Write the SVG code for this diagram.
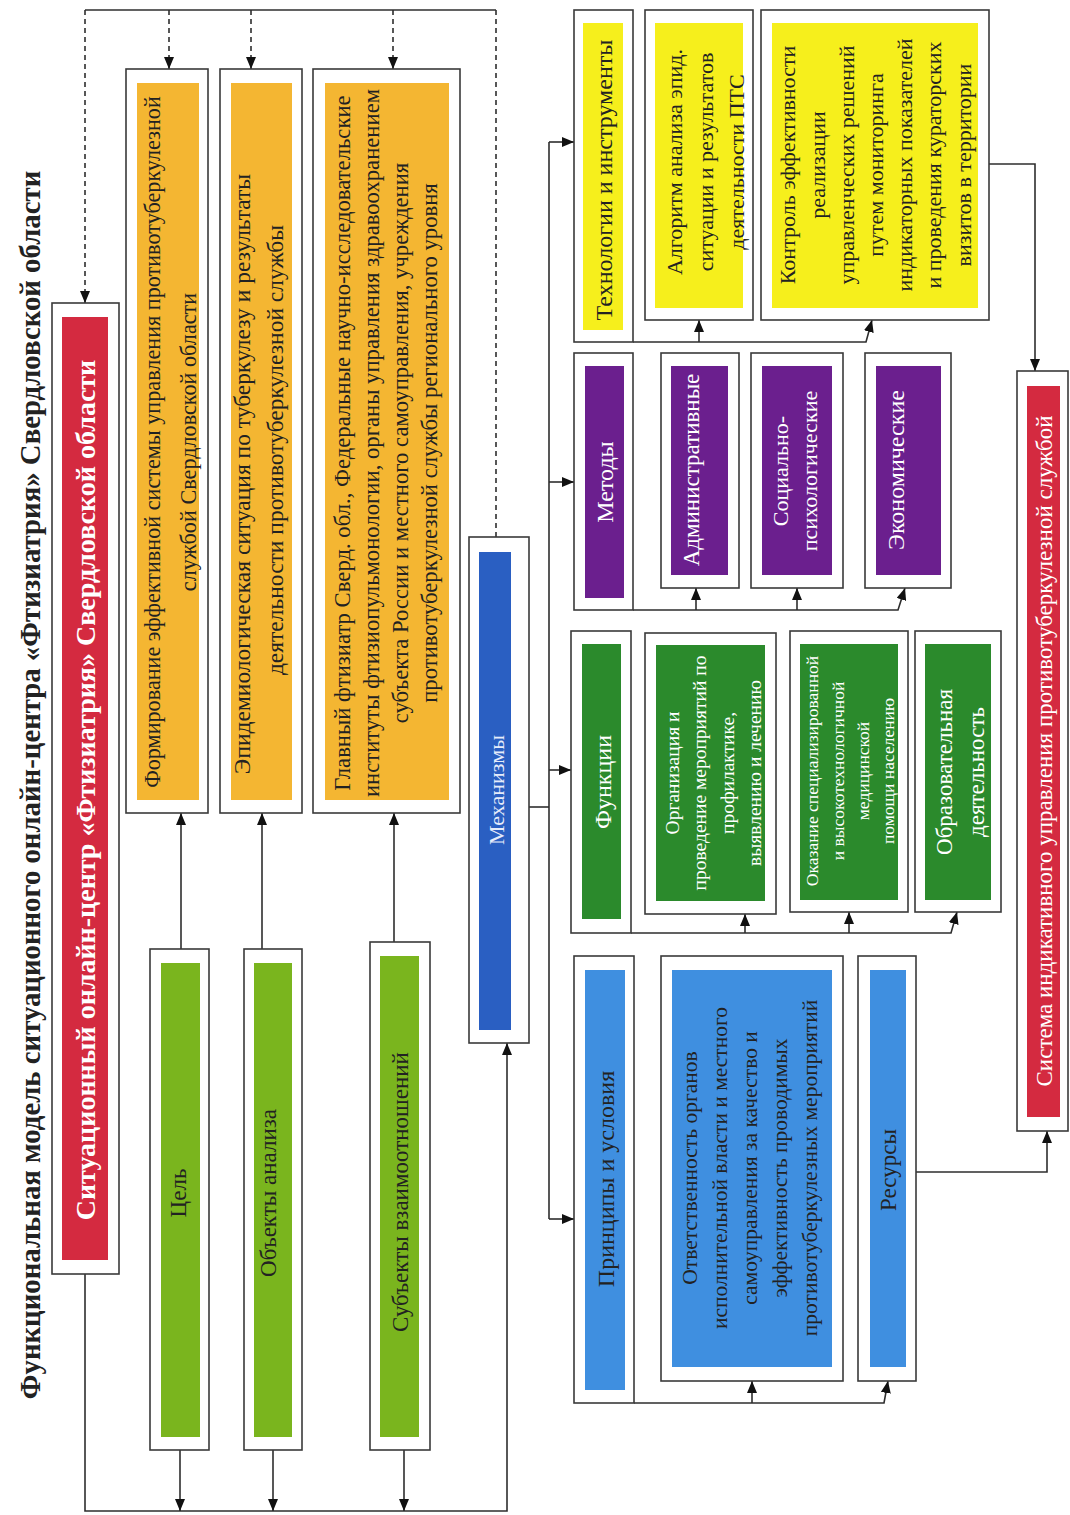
<svg xmlns="http://www.w3.org/2000/svg" width="1070" height="1515" viewBox="0 0 1070 1515">
<defs>
<style>
.frame{fill:#ffffff;stroke:#3a3a3a;stroke-width:1.6}
.t{font-family:"Liberation Serif","Times New Roman",serif;dominant-baseline:central;text-anchor:middle}
.dk{fill:#222222}
.wh{fill:#ffffff}
.conn{fill:none;stroke:#2e2e2e;stroke-width:1.6}
.dash{stroke-dasharray:5 4}
.red{fill:#d42a40}
.org{fill:#f4b632}
.lgr{fill:#7ab51e}
.blu{fill:#2a5fc2}
.yel{fill:#f6ef1c}
.pur{fill:#6b1f8e}
.dgr{fill:#2b8a2c}
.lbl{fill:#3f8fe0}
</style>
<marker id="arr" viewBox="0 0 12 10" refX="12" refY="5" markerWidth="12" markerHeight="10" markerUnits="userSpaceOnUse" orient="auto">
<path d="M0,0 L12,5 L0,10 z" fill="#111"/>
</marker>
</defs>
<rect x="0" y="0" width="1070" height="1515" fill="#ffffff"/>

<g id="title">
<text class="t dk" font-size="28.8" font-weight="bold" transform="translate(30,785) rotate(-90)">Функциональная модель ситуационного онлайн-центра «Фтизиатрия» Свердловской области</text>
</g>

<g id="connectors">
<path class="conn" d="M85,10 H496"/>
<path class="conn dash" d="M85,10 V303" marker-end="url(#arr)"/>
<path class="conn dash" d="M169,10 V69" marker-end="url(#arr)"/>
<path class="conn dash" d="M251,10 V69" marker-end="url(#arr)"/>
<path class="conn dash" d="M393,10 V69" marker-end="url(#arr)"/>
<path class="conn dash" d="M496,10 V537"/>
<path class="conn" d="M181,949 V813" marker-end="url(#arr)"/>
<path class="conn" d="M262,949 V813" marker-end="url(#arr)"/>
<path class="conn" d="M394,942 V813" marker-end="url(#arr)"/>
<path class="conn" d="M85,1274 V1511 H507 V1043" marker-end="url(#arr)"/>
<path class="conn" d="M180,1450 V1511" marker-end="url(#arr)"/>
<path class="conn" d="M273,1450 V1511" marker-end="url(#arr)"/>
<path class="conn" d="M404,1450 V1511" marker-end="url(#arr)"/>
<path class="conn" d="M529,807 H549"/>
<path class="conn" d="M549,142 V1219"/>
<path class="conn" d="M549,142 H574" marker-end="url(#arr)"/>
<path class="conn" d="M549,482 H574" marker-end="url(#arr)"/>
<path class="conn" d="M549,770 H571" marker-end="url(#arr)"/>
<path class="conn" d="M549,1219 H574" marker-end="url(#arr)"/>
<path class="conn" d="M633,342 H866 L872,320" marker-end="url(#arr)"/>
<path class="conn" d="M699,342 V320" marker-end="url(#arr)"/>
<path class="conn" d="M633,610 H898 L905,588" marker-end="url(#arr)"/>
<path class="conn" d="M696,610 V588" marker-end="url(#arr)"/>
<path class="conn" d="M797,610 V588" marker-end="url(#arr)"/>
<path class="conn" d="M631,933 H951 L957,912" marker-end="url(#arr)"/>
<path class="conn" d="M745,933 V914" marker-end="url(#arr)"/>
<path class="conn" d="M849,933 V912" marker-end="url(#arr)"/>
<path class="conn" d="M634,1403 H884 L888,1381" marker-end="url(#arr)"/>
<path class="conn" d="M752,1403 V1381" marker-end="url(#arr)"/>
<path class="conn" d="M989,164 H1035 V371" marker-end="url(#arr)"/>
<path class="conn" d="M916,1172 H1047 V1131" marker-end="url(#arr)"/>
</g>

<g id="center">
<rect class="frame" x="52" y="303" width="67" height="971"/>
<rect class="red" x="62" y="317" width="46" height="943"/>
<text class="t wh" font-size="28" font-weight="bold" transform="translate(85,790) rotate(-90)">Ситуационный онлайн-центр «Фтизиатрия» Свердловской области</text>
</g>

<g id="goal-content">
<rect class="frame" x="126" y="69" width="82" height="744"/>
<rect class="org" x="137" y="83" width="62" height="717"/>
<text class="t dk" font-size="22.2" transform="translate(170,442) rotate(-90)"><tspan x="0" y="-18">Формирование эффективной системы управления противотуберкулезной</tspan><tspan x="0" y="18">службой Свердловской области</tspan></text>
</g>

<g id="objects-content">
<rect class="frame" x="220" y="69" width="82" height="744"/>
<rect class="org" x="231" y="83" width="61" height="717"/>
<text class="t dk" font-size="23.5" transform="translate(258.5,444) rotate(-90)"><tspan x="-30" y="-16.5">Эпидемиологическая ситуация по туберкулезу и результаты</tspan><tspan x="-6" y="16.5">деятельности противотуберкулезной службы</tspan></text>
</g>

<g id="subjects-content">
<rect class="frame" x="313" y="69" width="147" height="744"/>
<rect class="org" x="325" y="83" width="124" height="717"/>
<text class="t dk" font-size="22.7" transform="translate(385.5,443) rotate(-90)"><tspan x="0" y="-43.5">Главный фтизиатр Сверд. обл., Федеральные научно-исследовательские</tspan><tspan x="0" y="-14.5">институты фтизиопульмонологии, органы управления здравоохранением</tspan><tspan x="0" y="14.5">субъекта России и местного самоуправления, учреждения</tspan><tspan x="0" y="43.5">противотуберкулезной службы регионального уровня</tspan></text>
</g>

<g id="goal">
<rect class="frame" x="150" y="949" width="59" height="501"/>
<rect class="lgr" x="161" y="963" width="39" height="474"/>
<text class="t dk" font-size="23" transform="translate(178,1193) rotate(-90)">Цель</text>
</g>

<g id="objects">
<rect class="frame" x="244" y="949" width="58" height="501"/>
<rect class="lgr" x="254" y="963" width="38" height="474"/>
<text class="t dk" font-size="23" transform="translate(268,1193) rotate(-90)">Объекты анализа</text>
</g>

<g id="subjects">
<rect class="frame" x="370" y="942" width="60" height="508"/>
<rect class="lgr" x="380" y="956" width="39" height="481"/>
<text class="t dk" font-size="23" transform="translate(400,1192) rotate(-90)">Субъекты взаимоотношений</text>
</g>

<g id="mechanisms">
<rect class="frame" x="469" y="537" width="60" height="506"/>
<rect class="blu" x="479" y="552" width="32" height="478"/>
<text class="t" fill="#e6ecfa" font-size="22" transform="translate(496,790) rotate(-90)">Механизмы</text>
</g>

<g id="technologies">
<rect class="frame" x="574" y="10" width="59" height="332"/>
<rect class="yel" x="583" y="23" width="40" height="307"/>
<text class="t dk" font-size="24" transform="translate(604,180) rotate(-90)">Технологии и инструменты</text>
</g>

<g id="algorithm">
<rect class="frame" x="645" y="10" width="108" height="310"/>
<rect class="yel" x="655" y="23" width="88" height="285"/>
<text class="t dk" font-size="22" transform="translate(705,162) rotate(-90)"><tspan x="0" y="-31">Алгоритм анализа эпид.</tspan><tspan x="0" y="0">ситуации и результатов</tspan><tspan x="0" y="31">деятельности ПТС</tspan></text>
</g>

<g id="control">
<rect class="frame" x="761" y="10" width="228" height="310"/>
<rect class="yel" x="772" y="23" width="206" height="285"/>
<text class="t dk" font-size="22" transform="translate(875,165) rotate(-90)"><tspan x="0" y="-87.6">Контроль эффективности</tspan><tspan x="0" y="-58.4">реализации</tspan><tspan x="0" y="-29.2">управленческих решений</tspan><tspan x="0" y="0">путем мониторинга</tspan><tspan x="0" y="29.2">индикаторных показателей</tspan><tspan x="0" y="58.4">и проведения кураторских</tspan><tspan x="0" y="87.6">визитов в территории</tspan></text>
</g>

<g id="methods">
<rect class="frame" x="574" y="353" width="59" height="257"/>
<rect class="pur" x="585" y="366" width="39" height="232"/>
<text class="t wh" font-size="24" transform="translate(605,482) rotate(-90)">Методы</text>
</g>

<g id="administrative">
<rect class="frame" x="661" y="353" width="78" height="235"/>
<rect class="pur" x="671" y="366" width="57" height="209"/>
<text class="t wh" font-size="23" transform="translate(691,470) rotate(-90)">Административные</text>
</g>

<g id="sociopsych">
<rect class="frame" x="751" y="353" width="92" height="235"/>
<rect class="pur" x="762" y="366" width="70" height="209"/>
<text class="t wh" font-size="22" transform="translate(794,471) rotate(-90)"><tspan x="0" y="-14.5">Социально-</tspan><tspan x="0" y="14.5">психологические</tspan></text>
</g>

<g id="economic">
<rect class="frame" x="865" y="353" width="86" height="235"/>
<rect class="pur" x="876" y="366" width="65" height="209"/>
<text class="t wh" font-size="24" transform="translate(896,470) rotate(-90)">Экономические</text>
</g>

<g id="functions">
<rect class="frame" x="571" y="631" width="60" height="302"/>
<rect class="dgr" x="582" y="644" width="39" height="275"/>
<text class="t wh" font-size="24" transform="translate(603,782) rotate(-90)">Функции</text>
</g>

<g id="organization">
<rect class="frame" x="645" y="633" width="131" height="281"/>
<rect class="dgr" x="656" y="645" width="109" height="256"/>
<text class="t wh" font-size="19.5" transform="translate(713,773) rotate(-90)"><tspan x="0" y="-41.25">Организация и</tspan><tspan x="0" y="-13.75">проведение мероприятий по</tspan><tspan x="0" y="13.75">профилактике,</tspan><tspan x="0" y="41.25">выявлению и лечению</tspan></text>
</g>

<g id="care">
<rect class="frame" x="790" y="631" width="118" height="281"/>
<rect class="dgr" x="800" y="644" width="98" height="256"/>
<text class="t wh" font-size="17.5" transform="translate(850,771) rotate(-90)"><tspan x="0" y="-38">Оказание специализированной</tspan><tspan x="0" y="-12.5">и высокотехнологичной</tspan><tspan x="0" y="12.5">медицинской</tspan><tspan x="0" y="38">помощи населению</tspan></text>
</g>

<g id="education">
<rect class="frame" x="915" y="631" width="86" height="281"/>
<rect class="dgr" x="925" y="644" width="66" height="256"/>
<text class="t wh" font-size="23" transform="translate(960,772) rotate(-90)"><tspan x="0" y="-16">Образовательная</tspan><tspan x="0" y="16">деятельность</tspan></text>
</g>

<g id="principles">
<rect class="frame" x="574" y="956" width="60" height="447"/>
<rect class="lbl" x="585" y="970" width="40" height="420"/>
<text class="t dk" font-size="24" transform="translate(606,1179) rotate(-90)">Принципы и условия</text>
</g>

<g id="responsibility">
<rect class="frame" x="661" y="956" width="182" height="425"/>
<rect class="lbl" x="672" y="970" width="160" height="397"/>
<text class="t dk" font-size="21.5" transform="translate(750,1168) rotate(-90)"><tspan x="0" y="-60">Ответственность органов</tspan><tspan x="0" y="-30">исполнительной власти и местного</tspan><tspan x="0" y="0">самоуправления за качество и</tspan><tspan x="0" y="30">эффективность проводимых</tspan><tspan x="0" y="60">противотуберкулезных мероприятий</tspan></text>
</g>

<g id="resources">
<rect class="frame" x="858" y="956" width="58" height="425"/>
<rect class="lbl" x="870" y="970" width="36" height="397"/>
<text class="t dk" font-size="23" transform="translate(888,1170) rotate(-90)">Ресурсы</text>
</g>

<g id="indicative-system">
<rect class="frame" x="1017" y="371" width="51" height="760"/>
<rect class="red" x="1027" y="386" width="33" height="731"/>
<text class="t wh" font-size="23" transform="translate(1044,751) rotate(-90)">Система индикативного управления противотуберкулезной службой</text>
</g>
</svg>
